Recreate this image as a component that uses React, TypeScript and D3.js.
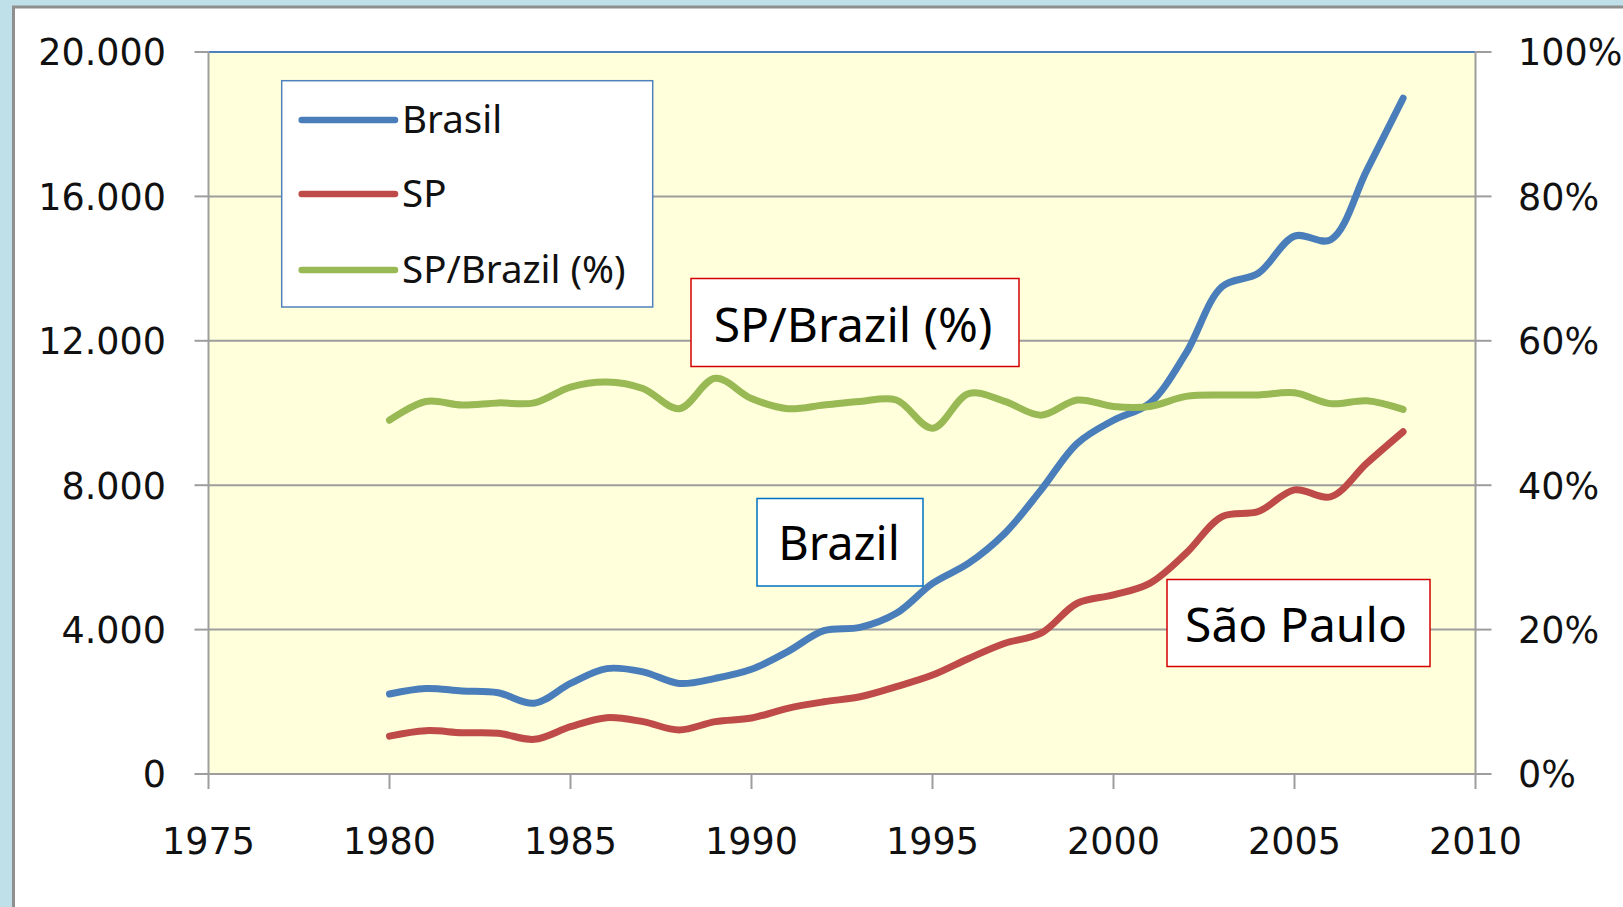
import React from 'react'
import * as d3 from 'd3'

const years = [
	1980, 1981, 1982, 1983, 1984, 1985, 1986, 1987, 1988, 1989, 1990, 1991, 1992, 1993, 1994,
	1995, 1996, 1997, 1998, 1999, 2000, 2001, 2002, 2003, 2004, 2005, 2006, 2007, 2008,
]
const brasil = [
	2216, 2370, 2300, 2250, 1960, 2510, 2920, 2830, 2510, 2650, 2900, 3390, 3970, 4060, 4450,
	5280, 5840, 6670, 7870, 9160, 9800, 10270, 11650, 13500, 13870, 14900, 14800, 16730, 18720,
]
const sp = [
	1050, 1200, 1145, 1130, 960, 1310, 1560, 1450, 1220, 1450, 1550, 1820, 2000, 2140, 2420,
	2740, 3200, 3620, 3900, 4730, 4960, 5280, 6110, 7130, 7270, 7870, 7680, 8610, 9480,
]
const share = [
	49.0, 51.6, 51.1, 51.4, 51.4, 53.6, 54.3, 53.4, 50.6, 54.8, 52.0, 50.6, 51.1, 51.6, 51.8,
	47.9, 52.7, 51.6, 49.7, 51.8, 50.9, 50.9, 52.3, 52.5, 52.5, 52.8, 51.3, 51.7, 50.5,
]
const xTicks = [1975, 1980, 1985, 1990, 1995, 2000, 2005, 2010]
const leftTicks = [0, 4000, 8000, 12000, 16000, 20000]
const leftLabels = ['0', '4.000', '8.000', '12.000', '16.000', '20.000']
const rightTicks = [0, 20, 40, 60, 80, 100]
const rightLabels = ['0%', '20%', '40%', '60%', '80%', '100%']
const legendNames = ['Brasil', 'SP', 'SP/Brazil (%)']

const W = 1623
const H = 907
const left = 208.5
const right = 1475.5
const top = 52
const bottom = 774

const blue = '#4a7ebb'
const red = '#be4b48'
const green = '#98b954'
const grid = '#9d9d9d'
const tickFont = '"DejaVu Sans", sans-serif'
const textFont = '"Noto Sans", "Open Sans", sans-serif'

export default function App() {
	const x = d3.scaleLinear().domain([1975, 2010]).range([left, right])
	const y = d3.scaleLinear().domain([0, 20000]).range([bottom, top])
	const y2 = d3.scaleLinear().domain([0, 100]).range([bottom, top])

	const line = d3
		.line<number>()
		.x((d, i) => x(years[i]))
		.y((d) => y(d))
		.curve(d3.curveCatmullRom.alpha(0.5))
	const line2 = d3
		.line<number>()
		.x((d, i) => x(years[i]))
		.y((d) => y2(d))
		.curve(d3.curveCatmullRom.alpha(0.5))

	const series = [
		{ name: legendNames[0], color: blue, d: line(brasil) },
		{ name: legendNames[1], color: red, d: line(sp) },
		{ name: legendNames[2], color: green, d: line2(share) },
	]
	const legendY = [120, 194, 270]

	return (
		<svg
			width={W}
			height={H}
			style={{ position: 'absolute', left: 0, top: 0, display: 'block' }}
		>
			<rect x={0} y={0} width={W} height={H} fill="#bfdfe9" />
			<rect x={13.5} y={7} width={W} height={H} fill="#fff" stroke="#8f8f8f" strokeWidth={3} />

			{/* plot area */}
			<rect x={left} y={top} width={right - left} height={bottom - top} fill="#ffffdb" />
			{leftTicks.slice(1, -1).map((t) => (
				<line key={t} x1={left} x2={right} y1={y(t)} y2={y(t)} stroke={grid} strokeWidth={2} />
			))}
			<line x1={left} x2={right} y1={top} y2={top} stroke="#4f81bd" strokeWidth={2} />

			{/* axes */}
			<g stroke={grid} strokeWidth={2}>
				<line x1={left} x2={left} y1={top} y2={bottom} />
				<line x1={right} x2={right} y1={top} y2={bottom} />
				<line x1={left} x2={right} y1={bottom} y2={bottom} />
				{leftTicks.map((t) => (
					<line key={'l' + t} x1={left - 14} x2={left} y1={y(t)} y2={y(t)} />
				))}
				{rightTicks.map((t) => (
					<line key={'r' + t} x1={right} x2={right + 16} y1={y2(t)} y2={y2(t)} />
				))}
				{xTicks.map((t) => (
					<line key={'x' + t} x1={x(t)} x2={x(t)} y1={bottom} y2={bottom + 15} />
				))}
			</g>
			<g fontFamily={tickFont} fontSize={36.5} fill="#111">
				{leftTicks.map((t, i) => (
					<text key={'lt' + t} x={166} y={y(t) + 13.3} textAnchor="end">
						{leftLabels[i]}
					</text>
				))}
				{rightTicks.map((t, i) => (
					<text key={'rt' + t} x={1518} y={y2(t) + 13.3}>
						{rightLabels[i]}
					</text>
				))}
				{xTicks.map((t) => (
					<text key={'xt' + t} x={x(t)} y={854} textAnchor="middle">
						{t}
					</text>
				))}
			</g>

			{/* series */}
			{series.map((s) => (
				<path
					key={s.name}
					d={s.d || ''}
					fill="none"
					stroke={s.color}
					strokeWidth={7}
					strokeLinecap="round"
					strokeLinejoin="round"
				/>
			))}

			{/* legend */}
			<rect x={281.7} y={80.7} width={371} height={226.3} fill="#fff" stroke="#4f81bd" strokeWidth={1.5} />
			{series.map((s, i) => (
				<g key={'lg' + s.name}>
					<line
						x1={301.7}
						x2={395}
						y1={legendY[i]}
						y2={legendY[i]}
						stroke={s.color}
						strokeWidth={6.5}
						strokeLinecap="round"
					/>
					<text x={402} y={legendY[i] + 12.5} fontFamily={textFont} fontSize={38.5} fill="#111">
						{s.name}
					</text>
				</g>
			))}

			{/* annotations */}
			<rect x={691} y={278.5} width={328} height={88} fill="#fff" stroke="#d40000" strokeWidth={1.5} />
			<text x={853} y={342} textAnchor="middle" fontFamily={textFont} fontSize={48} fill="#000">
				SP/Brazil (%)
			</text>
			<rect x={757} y={498.5} width={166} height={87.5} fill="#fff" stroke="#0070c0" strokeWidth={1.5} />
			<text x={839} y={560} textAnchor="middle" fontFamily={textFont} fontSize={47} fill="#000">
				Brazil
			</text>
			<rect x={1167} y={579.5} width={263} height={87} fill="#fff" stroke="#d40000" strokeWidth={1.5} />
			<text x={1296} y={642} textAnchor="middle" fontFamily={textFont} fontSize={48} fill="#000">
				São Paulo
			</text>
		</svg>
	)
}
